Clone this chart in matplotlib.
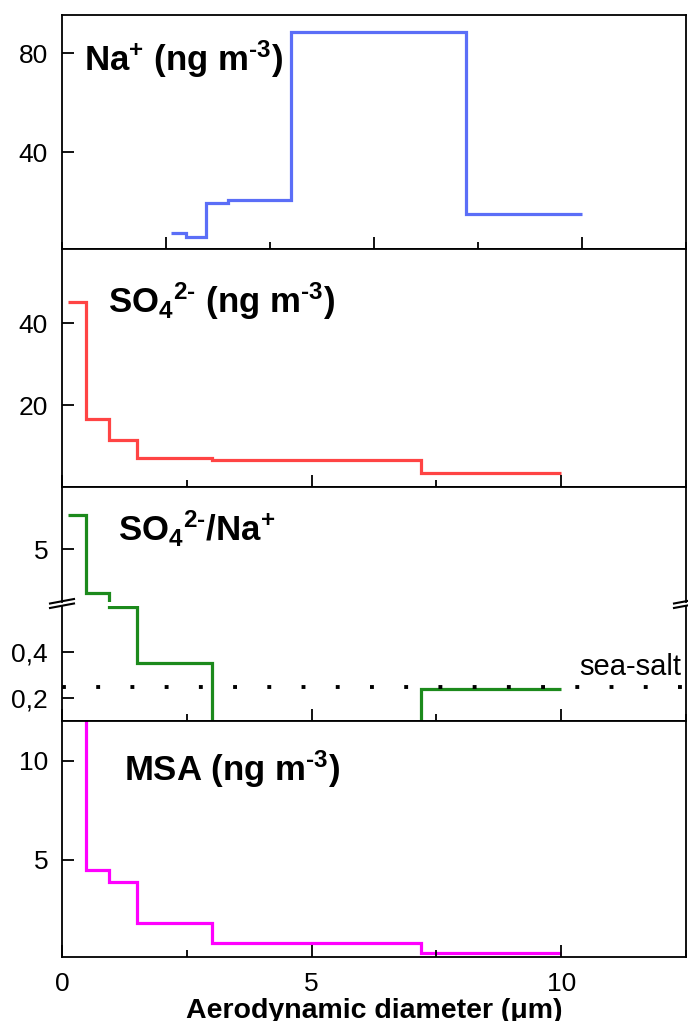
import matplotlib
matplotlib.use("Agg")
import matplotlib.pyplot as plt
from matplotlib.lines import Line2D
from matplotlib.ticker import MultipleLocator, FixedLocator, NullFormatter

plt.rcParams['font.family'] = ['Liberation Sans', 'DejaVu Sans']
plt.rcParams['mathtext.fontset'] = 'custom'
plt.rcParams['mathtext.rm'] = 'Liberation Sans'
plt.rcParams['mathtext.bf'] = 'Liberation Sans:bold'
plt.rcParams['mathtext.it'] = 'Liberation Sans:italic'
plt.rcParams['axes.linewidth'] = 1.3

# size bin edges (um) and concentrations per bin
edges = [0.12, 0.49, 0.95, 1.5, 3.0, 7.2, 10.0]
na = [7.3, 5.7, 19.4, 20.5, 88.5, 14.8]
so4 = [45.3, 16.6, 11.4, 7.1, 6.5, 3.5]
ratio = [6.2, 3.45, 0.595, 0.352, 0.073, 0.24]
msa = [14.0, 4.5, 3.9, 1.8, 0.82, 0.3]
sea_salt = 0.25

W, H = 688, 1021
fig = plt.figure(figsize=(W / 100, H / 100), dpi=100)


def add_ax(top, bottom):
    return fig.add_axes([62 / W, 1 - bottom / H, 624 / W, (bottom - top) / H])


ax1 = add_ax(15, 249)
ax2 = add_ax(249, 487)
ax3u = add_ax(487, 602)
ax3l = add_ax(606, 721)
ax4 = add_ax(721, 957)

lw = 2.3
ax1.stairs(na, edges, baseline=None, color='#5b6ef7', lw=lw)
ax2.stairs(so4, edges, baseline=None, color='#ff4444', lw=lw)
ax3u.stairs(ratio, edges, baseline=None, color='#1c8a1c', lw=lw)
ax3l.stairs(ratio, edges, baseline=None, color='#1c8a1c', lw=lw)
ax4.stairs(msa, edges, baseline=None, color='#ff00ff', lw=lw)
ax3l.axhline(sea_salt, color='black', lw=2.8, linestyle=(0, (1, 7.8)),
             dash_capstyle='butt')
ax3l.text(12.4, 0.30, 'sea-salt', fontsize=21, ha='right', va='baseline')

ax1.set_xlim(-2.5, 12.5)
for ax in (ax2, ax3u, ax3l, ax4):
    ax.set_xlim(0, 12.5)

ax1.set_ylim(0.8, 95.4)
ax2.set_ylim(0, 58.2)
ax3u.set_ylim(3.13, 7.19)
ax3l.set_ylim(0.101, 0.601)
ax4.set_ylim(0.1, 12.0)

ax1.yaxis.set_major_locator(FixedLocator([40, 80]))
ax2.yaxis.set_major_locator(FixedLocator([20, 40]))
ax3u.yaxis.set_major_locator(FixedLocator([5]))
ax3l.yaxis.set_major_locator(FixedLocator([0.2, 0.4]))
ax3l.set_yticklabels(['0,2', '0,4'])
ax4.yaxis.set_major_locator(FixedLocator([5, 10]))

for ax in (ax1, ax2, ax3u, ax3l, ax4):
    ax.xaxis.set_major_locator(MultipleLocator(5))
    ax.xaxis.set_minor_locator(MultipleLocator(2.5))
    ax.tick_params(which='both', direction='in', width=1.3, labelsize=19,
                   top=False, right=False)
    ax.tick_params(which='major', length=8.6)
    ax.tick_params(which='minor', length=5)
    ax.tick_params(axis='y', pad=10)
    ax.tick_params(axis='x', pad=11)
    if ax is not ax4:
        ax.xaxis.set_major_formatter(NullFormatter())

ax3u.tick_params(axis='x', which='both', bottom=False)
ax3u.spines['bottom'].set_visible(False)
ax3l.spines['top'].set_visible(False)

ax4.set_xlabel('Aerodynamic diameter (μm)', fontsize=20.5, fontweight='bold',
               labelpad=1)

hy = '\u2010'
lab = dict(fontsize=25, ha='left', va='baseline')
ax1.text(0.035, 0.761, r'$\mathbf{Na^{+}\ (ng\ m^{' + hy + r'3})}$',
         transform=ax1.transAxes, **lab)
ax2.text(0.074, 0.731,
         r'$\mathbf{SO_4{}^{2' + hy + r'}\ (ng\ m^{' + hy + r'3})}$',
         transform=ax2.transAxes, **lab)
ax3u.text(0.09, 0.53, r'$\mathbf{SO_4{}^{2' + hy + r'}/Na^{+}}$',
          transform=ax3u.transAxes, **lab)
ax4.text(0.099, 0.746, r'$\mathbf{MSA\ (ng\ m^{' + hy + r'3})}$',
         transform=ax4.transAxes, **lab)

# axis break marks
for x0 in (62, 686):
    for yb in (603.5, 608):
        fig.add_artist(Line2D([(x0 - 12) / W, (x0 + 12) / W],
                              [1 - yb / H, 1 - (yb - 4.5) / H],
                              transform=fig.transFigure, color='black',
                              lw=1.5, clip_on=False))

fig.savefig('out.png', dpi=100)
